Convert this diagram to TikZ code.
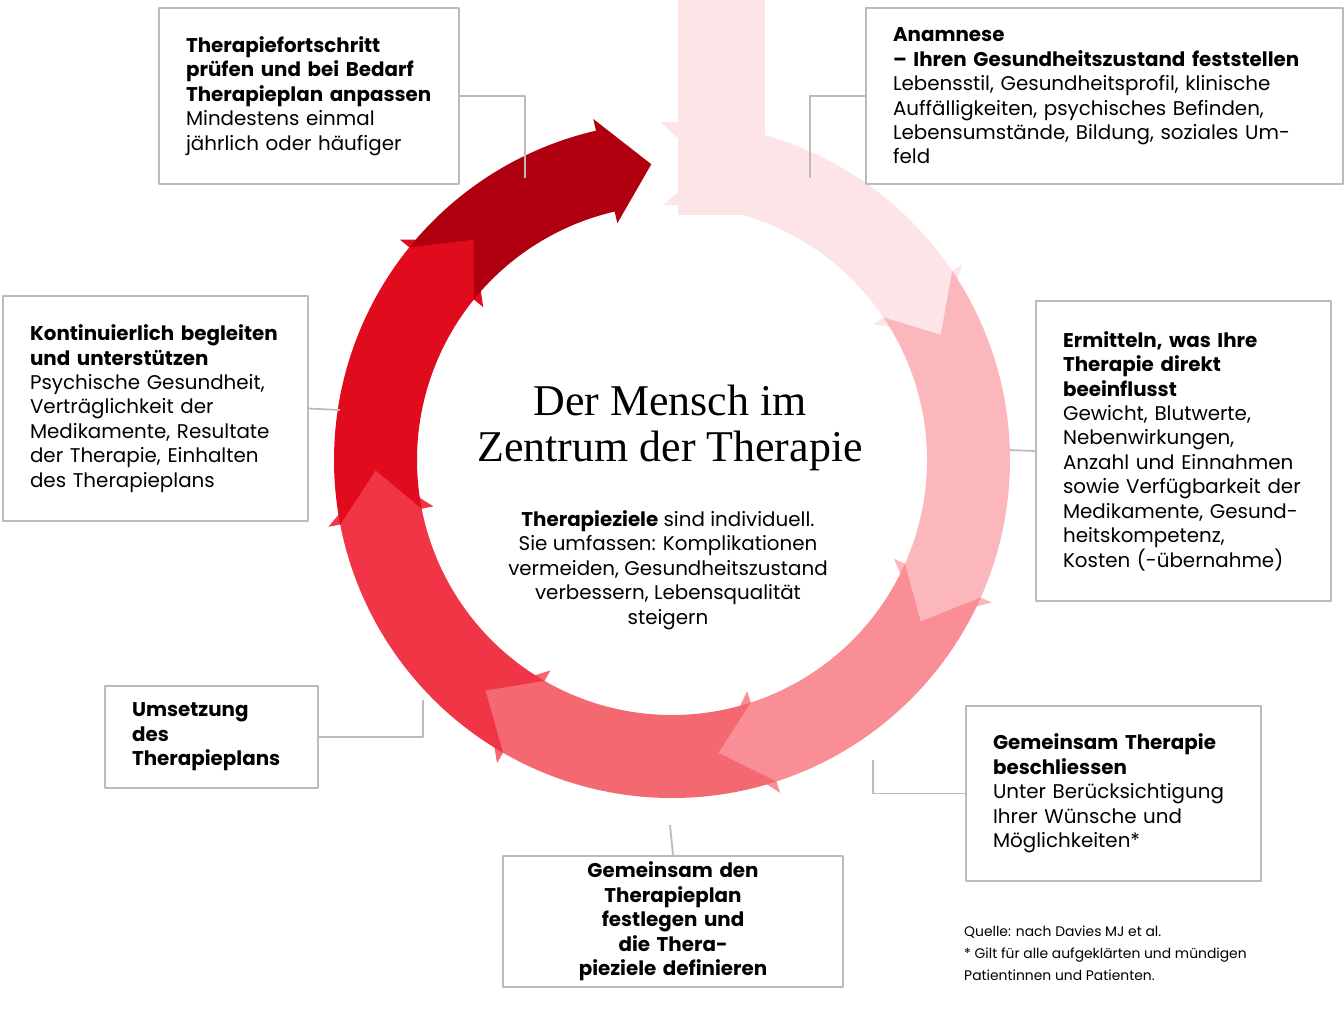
\documentclass[tikz,border=0pt]{standalone}
\usepackage{fontspec}
\setmainfont{Poppins}
\newfontfamily\titlefont{Liberation Serif}
\definecolor{sega}{HTML}{FDE4E6}
\definecolor{segb}{HTML}{FBB7BC}
\definecolor{segc}{HTML}{F98E96}
\definecolor{segd}{HTML}{F46872}
\definecolor{sege}{HTML}{F03646}
\definecolor{segf}{HTML}{E00B1C}
\definecolor{segg}{HTML}{B0000F}
\definecolor{boxgray}{HTML}{BBBBBB}
% one arrow of the ring: start angle, end angle, colour
\newcommand{\ringseg}[3]{%
  \fill[#3,shift={(672,460)}] (#1:338) arc[start angle=#1,end angle=#2,radius=338]
    -- (#2:350) -- ({#2+9}:296.5) -- (#2:243) -- (#2:255)
    arc[start angle=#2,end angle=#1,radius=255] -- ({#1+9}:296.5) -- cycle;}
\tikzset{
  box/.style={draw=boxgray,line width=1.2pt,anchor=north west,align=left,
    inner xsep=0.54cm,font=\fontsize{11.3}{13.9}\selectfont},
  link/.style={draw=boxgray,line width=1pt}
}
\begin{document}
\begin{tikzpicture}[x=0.02cm,y=-0.02cm,line join=round]
\useasboundingbox (0,0) rectangle (1344,1022);
% ring
\fill[sega] (678,0) rectangle (765,215);
\ringseg{-92}{-34}{sega}
\ringseg{-34}{24}{segb}
\ringseg{24}{72}{segc}
\ringseg{72}{120}{segd}
\ringseg{120}{169}{sege}
\ringseg{169}{219}{segf}
\ringseg{219}{257}{segg}
% centre
\node[font=\titlefont\fontsize{25}{26}\selectfont,align=center] (title) at (670,428)
  {Der Mensch im\\Zentrum der Therapie};
\node[font=\fontsize{11.3}{13.9}\selectfont,align=center] (ziele) at (668,570)
  {\textbf{Therapieziele} sind individuell.\\Sie umfassen: Komplikationen\\vermeiden, Gesundheitszustand\\verbessern, Lebensqualität\\steigern};
% boxes
\node[box,text width=4.92cm,minimum width=6cm,minimum height=3.52cm] (pruefen) at (158,7)
  {\textbf{Therapiefortschritt}\\\textbf{prüfen und bei Bedarf}\\\textbf{Therapieplan anpassen}\\Mindestens einmal\\jährlich oder häufiger};
\node[box,text width=8.46cm,minimum width=9.54cm,minimum height=3.52cm] (anamnese) at (865,7)
  {\textbf{Anamnese}\\\textbf{– Ihren Gesundheitszustand feststellen}\\Lebensstil, Gesundheitsprofil, klinische\\Auffälligkeiten, psychisches Befinden,\\Lebensumstände, Bildung, soziales Umfeld};
\node[box,text width=4.82cm,minimum width=5.9cm,minimum height=6cm] (ermitteln) at (1035,300)
  {\textbf{Ermitteln, was Ihre}\\\textbf{Therapie direkt}\\\textbf{beeinflusst}\\Gewicht, Blutwerte,\\Nebenwirkungen,\\Anzahl und Einnahmen\\sowie Verfügbarkeit der\\Medikamente, Gesund-\\heitskompetenz,\\Kosten (-übernahme)};
\node[box,text width=4.82cm,minimum width=5.9cm,minimum height=3.5cm] (beschliessen) at (965,705)
  {\textbf{Gemeinsam Therapie}\\\textbf{beschliessen}\\Unter Berücksichtigung\\Ihrer Wünsche und\\Möglichkeiten*};
\node[box,align=center,text width=5.72cm,minimum width=6.8cm,minimum height=2.54cm] (festlegen) at (502,855)
  {\textbf{Gemeinsam den}\\\textbf{Therapieplan festlegen und}\\\textbf{die Therapieziele definieren}};
\node[box,text width=3.18cm,minimum width=4.26cm,minimum height=2.04cm] (umsetzung) at (104,685)
  {\textbf{Umsetzung des}\\\textbf{Therapieplans}};
\node[box,text width=5.02cm,minimum width=6.1cm,minimum height=4.5cm] (begleiten) at (2,295)
  {\textbf{Kontinuierlich begleiten}\\\textbf{und unterstützen}\\Psychische Gesundheit,\\Verträglichkeit der\\Medikamente, Resultate\\der Therapie, Einhalten\\des Therapieplans};
% connectors
\coordinate (cpruefen) at (525,178);
\coordinate (canamnese) at (810,178);
\coordinate (cermitteln) at (1010,450);
\coordinate (cbeschliessen) at (873,760);
\coordinate (cfestlegen) at (670,825);
\coordinate (cumsetzung) at (423,700);
\coordinate (cbegleiten) at (340,410);
\draw[link] (pruefen.east) -| (cpruefen);
\draw[link] (anamnese.west) -| (canamnese);
\draw[link] (ermitteln.west) -- (cermitteln);
\draw[link] (beschliessen.west) -| (cbeschliessen);
\draw[link] (festlegen.north) -- (cfestlegen);
\draw[link] (umsetzung.east) -| (cumsetzung);
\draw[link] (begleiten.east) -- (cbegleiten);
% source
\node[anchor=north west,align=left,font=\fontsize{7.9}{12.5}\selectfont] (quelle) at (958,920)
  {Quelle: nach Davies MJ et al.\\* Gilt für alle aufgeklärten und mündigen\\Patientinnen und Patienten.};
\end{tikzpicture}
\end{document}
